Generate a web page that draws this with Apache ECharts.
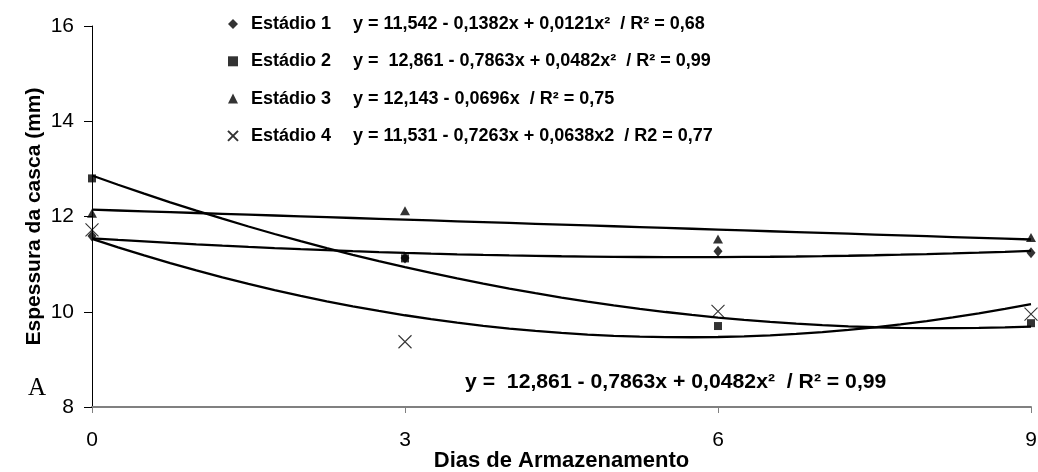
<!DOCTYPE html>
<html>
<head>
<meta charset="utf-8">
<script src="https://cdn.jsdelivr.net/npm/echarts@6/dist/echarts.min.js"></script>
<style>
  html, body { margin: 0; padding: 0; background: #ffffff; }
  #chart { width: 1038px; height: 472px; }
</style>
</head>
<body>
<div id="chart"></div>
<script>
// Storage days on the x axis
const days = [0, 3, 6, 9];

// Shell thickness (mm) measured for each ripening stage
const stageNames = ['Estádio 1', 'Estádio 2', 'Estádio 3', 'Estádio 4'];
const stage1 = [11.59, 11.13, 11.27, 11.24];
const stage2 = [12.80, 11.12, 9.70, 9.76];
const stage3 = [12.07, 12.12, 11.53, 11.56];
const stage4 = [11.72, 9.37, 10.01, 9.95];

// Fitted regressions y = a + b·x + c·x², as printed in the legend
const coefA = [11.542, 12.861, 12.143, 11.531];
const coefB = [-0.1382, -0.7863, -0.0696, -0.7263];
const coefC = [0.0121, 0.0482, 0, 0.0638];
const equations = [
  'y = 11,542 - 0,1382x + 0,0121x\u00B2  / R\u00B2 = 0,68',
  'y =  12,861 - 0,7863x + 0,0482x\u00B2  / R\u00B2 = 0,99',
  'y = 12,143 - 0,0696x  / R\u00B2 = 0,75',
  'y = 11,531 - 0,7263x + 0,0638x2  / R2 = 0,77'
];
const highlightEquation = 'y =  12,861 - 0,7863x + 0,0482x\u00B2  / R\u00B2 = 0,99';
const panelLetter = 'A';

// Axis settings
const yMin = 8, yMax = 16, yStep = 2;
const xMin = 0, xMax = 9, xStep = 3;

const stageValues = [stage1, stage2, stage3, stage4];
const crossPath = 'path://M0,0L10,10M10,0L0,10';
const stageSymbols = ['diamond', 'rect', 'triangle', crossPath];
const stageSizes = [[9, 11], [8, 8], [10, 9], [13, 13]];

const fontSans = '"Liberation Sans", Arial, Helvetica, sans-serif';

function trendCurve(i) {
  const pts = [];
  for (let k = 0; k <= 36; k++) {
    const x = k * 0.25;
    pts.push([x, coefA[i] + coefB[i] * x + coefC[i] * x * x]);
  }
  return pts;
}

const series = [];
stageNames.forEach(function (name, i) {
  series.push({
    type: 'line',
    name: name + ' ajuste',
    data: trendCurve(i),
    showSymbol: false,
    smooth: false,
    silent: true,
    z: 2,
    lineStyle: { color: '#000000', width: 2.3 }
  });
});
stageNames.forEach(function (name, i) {
  const isCross = stageSymbols[i] === crossPath;
  series.push({
    type: 'scatter',
    name: name,
    data: days.map(function (d, j) { return [d, stageValues[i][j]]; }),
    symbol: stageSymbols[i],
    symbolSize: stageSizes[i],
    z: 3,
    itemStyle: isCross
      ? { color: 'rgba(0,0,0,0)', borderColor: '#000000', borderWidth: 1.1 }
      : { color: '#000000' }
  });
});

const chart = echarts.init(document.getElementById('chart'), null, { renderer: 'canvas' });

chart.setOption({
  animation: false,
  backgroundColor: '#ffffff',
  grid: { left: 92, right: 7, top: 26, bottom: 65, containLabel: false, outerBoundsMode: 'none' },
  legend: {
    data: stageNames,
    orient: 'vertical',
    left: 222,
    top: 10,
    itemWidth: 10,
    itemHeight: 10,
    itemGap: 19.3,
    selectedMode: false,
    formatter: function (name) {
      const i = stageNames.indexOf(name);
      return '{n|' + name + '}{e|' + equations[i] + '}';
    },
    textStyle: {
      rich: {
        n: { width: 102, padding: [0, 0, 0, 8], fontFamily: fontSans, fontWeight: 'bold', fontSize: 18, color: '#000', lineHeight: 20 },
        e: { fontFamily: fontSans, fontWeight: 'bold', fontSize: 18, color: '#000', lineHeight: 20 }
      }
    }
  },
  xAxis: {
    type: 'value',
    min: xMin,
    max: xMax,
    interval: xStep,
    name: 'Dias de Armazenamento',
    nameLocation: 'middle',
    nameGap: 43,
    nameMoveOverlap: false,
    nameTextStyle: { fontFamily: fontSans, fontWeight: 'bold', fontSize: 22, color: '#000' },
    axisLine: { lineStyle: { color: '#808080', width: 2 } },
    axisTick: { show: true, length: 6, inside: false, lineStyle: { color: '#808080', width: 1 } },
    axisLabel: { fontFamily: fontSans, fontSize: 21, color: '#000', margin: 23 },
    splitLine: { show: false }
  },
  yAxis: {
    type: 'value',
    min: yMin,
    max: yMax,
    interval: yStep,
    name: 'Espessura da casca (mm)',
    nameLocation: 'middle',
    nameGap: 47,
    nameMoveOverlap: false,
    nameTextStyle: { fontFamily: fontSans, fontWeight: 'bold', fontSize: 21, color: '#000' },
    axisLine: { show: true, lineStyle: { color: '#000', width: 1 } },
    axisTick: { show: true, length: 8, inside: false, lineStyle: { color: '#000', width: 1 } },
    axisLabel: { fontFamily: fontSans, fontSize: 21, color: '#000', margin: 18 },
    splitLine: { show: false }
  },
  graphic: [
    {
      type: 'text',
      x: 28,
      y: 388,
      style: {
        text: panelLetter,
        font: '25px "Liberation Serif", "Times New Roman", serif',
        fill: '#000',
        textVerticalAlign: 'middle'
      }
    },
    {
      type: 'text',
      x: 465,
      y: 382,
      scaleX: 1.06,
      style: {
        text: highlightEquation,
        font: 'bold 20px ' + fontSans,
        fill: '#000',
        textVerticalAlign: 'middle'
      }
    }
  ],
  series: series
});
</script>
</body>
</html>
